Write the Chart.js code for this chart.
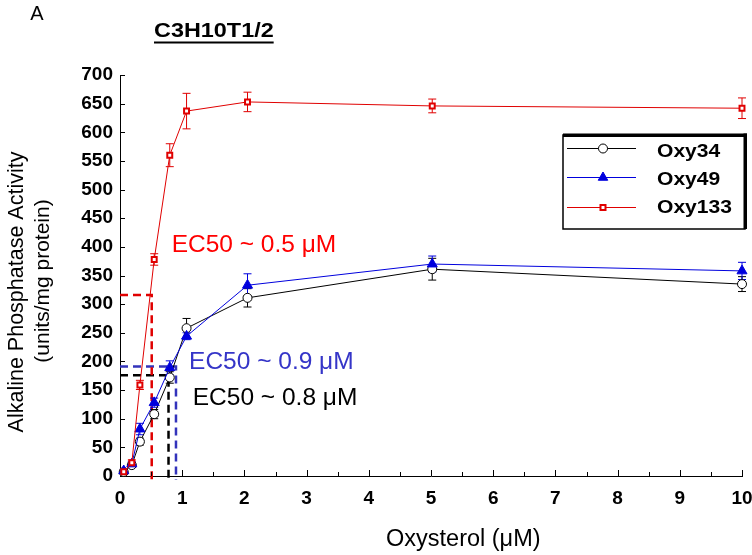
<!DOCTYPE html>
<html><head><meta charset="utf-8">
<script src="https://cdn.jsdelivr.net/npm/chart.js@4"></script>
<style>html,body{margin:0;padding:0;background:#fff;}#wrap{width:752px;height:555px;position:relative;}</style>
</head><body><div id="wrap"><canvas id="c" width="752" height="555"></canvas></div>
<script>
// ---- data ----
const concentrations = [0.06, 0.19, 0.32, 0.55, 0.80, 1.07, 2.05, 5.02, 10.0];
const seriesNames = ['Oxy34', 'Oxy49', 'Oxy133'];
const oxy34 = [7, 19, 60, 108, 172, 258, 311, 361, 335];
const oxy34Err = [3, 4, 6, 8, 10, 17, 16, 19, 13];
const oxy49 = [9, 21, 82, 128, 189, 244, 333, 370, 358];
const oxy49Err = [3, 4, 10, 8, 12, 6, 20, 14, 15];
const oxy133 = [7.5, 23, 159, 378, 560, 637, 653, 646, 642];
const oxy133Err = [3, 5, 8, 10, 20, 31, 17, 12, 18];
const ec50X = [0.78, 0.90, 0.51];
const ec50Y = [176, 191, 316];
const ec50Labels = ['EC50 ~ 0.8 \u03bcM', 'EC50 ~ 0.9 \u03bcM', 'EC50 ~ 0.5 \u03bcM'];
const panelLabel = 'A';
const chartTitle = 'C3H10T1/2';
const xTitle = 'Oxysterol (\u03bcM)';
const yTitle = ['Alkaline Phosphatase Activity', '(units/mg protein)'];

// ---- styles ----
const colors = ['#000000', '#0000dd', '#e00000'];
const ec50Colors = ['#000000', '#3333bb', '#e00000'];
const ec50TextColors = ['#000000', '#3535c8', '#ff0000'];
const ec50TextPos = [[1.17, 136], [1.11, 199], [0.83, 402]]; // data coords of label left/middle
const errLists = [oxy34Err, oxy49Err, oxy133Err];
const FONT = "'Liberation Sans', Arial, sans-serif";

function pts(vals) { return vals.map((v, i) => ({x: concentrations[i], y: v})); }

function drawMarker(ctx, type, x, y, color) {
  ctx.save();
  ctx.lineWidth = 1;
  ctx.strokeStyle = color; ctx.fillStyle = color;
  if (type === 'circle') {
    ctx.fillStyle = '#fff';
    ctx.beginPath(); ctx.arc(x, y, 4.5, 0, Math.PI * 2); ctx.fill(); ctx.stroke();
  } else if (type === 'triangle') {
    const r = 5.5;
    ctx.beginPath();
    ctx.moveTo(x, y - r);
    ctx.lineTo(x + r * 0.866, y + r * 0.5);
    ctx.lineTo(x - r * 0.866, y + r * 0.5);
    ctx.closePath(); ctx.fill(); ctx.stroke();
  } else {
    ctx.lineWidth = 2;
    ctx.fillStyle = '#fff';
    ctx.beginPath(); ctx.rect(x - 2.5, y - 2.5, 5, 5); ctx.fill(); ctx.stroke();
  }
  ctx.restore();
}

function stretchText(ctx, text, x, y, sx) {
  ctx.save(); ctx.translate(x, y); ctx.scale(sx, 1); ctx.fillText(text, 0, 0); ctx.restore();
}

const decor = {
  id: 'decor',
  beforeDatasetsDraw(chart) {
    const {ctx, scales: {x, y}} = chart;
    // EC50 dashed guides
    ctx.save();
    ctx.lineWidth = 2.5;
    ctx.setLineDash([8, 5]);
    ec50X.forEach((v, i) => {
      ctx.strokeStyle = ec50Colors[i];
      ctx.beginPath();
      ctx.moveTo(x.getPixelForValue(0), y.getPixelForValue(ec50Y[i]));
      ctx.lineTo(x.getPixelForValue(v), y.getPixelForValue(ec50Y[i]));
      ctx.lineTo(x.getPixelForValue(v), y.getPixelForValue(0) + 4);
      ctx.stroke();
    });
    ctx.restore();
    // error bars
    ctx.save();
    ctx.lineWidth = 1;
    chart.data.datasets.forEach((ds, i) => {
      ctx.strokeStyle = ds.borderColor;
      ds.data.forEach((p, j) => {
        const e = errLists[i][j];
        const px = x.getPixelForValue(p.x);
        const t = y.getPixelForValue(p.y + e), b = y.getPixelForValue(p.y - e);
        ctx.beginPath();
        ctx.moveTo(px, t); ctx.lineTo(px, b);
        ctx.moveTo(px - 4, t); ctx.lineTo(px + 4, t);
        ctx.moveTo(px - 4, b); ctx.lineTo(px + 4, b);
        ctx.stroke();
      });
    });
    ctx.restore();
  },
  afterDraw(chart) {
    const {ctx, scales: {x, y}} = chart;
    ctx.save();
    // inward ticks
    ctx.strokeStyle = '#000'; ctx.lineWidth = 1;
    const x0 = x.getPixelForValue(0), y0 = y.getPixelForValue(0);
    ctx.beginPath();
    for (let v = 50; v <= 700; v += 50) {
      const py = Math.round(y.getPixelForValue(v)) + 0.5;
      ctx.moveTo(x0, py); ctx.lineTo(x0 + 5, py);
    }
    for (let v = 0.5; v <= 10; v += 0.5) {
      const px = Math.round(x.getPixelForValue(v)) + 0.5;
      const len = (v % 1 === 0) ? 6 : 4;
      ctx.moveTo(px, y0); ctx.lineTo(px, y0 - len);
    }
    ctx.stroke();

    // EC50 labels
    ctx.font = '24.5px ' + FONT;
    ctx.textBaseline = 'middle'; ctx.textAlign = 'left';
    ec50Labels.forEach((t, i) => {
      ctx.fillStyle = ec50TextColors[i];
      ctx.fillText(t, x.getPixelForValue(ec50TextPos[i][0]), y.getPixelForValue(ec50TextPos[i][1]));
    });

    // panel label and title
    ctx.fillStyle = '#000';
    ctx.font = '20px ' + FONT;
    ctx.textAlign = 'center';
    ctx.fillText(panelLabel, 37, 14);
    ctx.font = 'bold 19.5px ' + FONT;
    ctx.textAlign = 'left';
    const tw = ctx.measureText(chartTitle).width * 1.2;
    stretchText(ctx, chartTitle, 154, 32, 1.2);
    ctx.fillRect(154, 41.5, tw, 2);

    // x axis title
    ctx.font = '23.5px ' + FONT;
    ctx.textAlign = 'left';
    ctx.fillText(xTitle, 386, 540);

    // y axis title (two lines, rotated)
    ctx.save();
    ctx.textAlign = 'center';
    ctx.translate(17, 292); ctx.rotate(-Math.PI / 2);
    ctx.font = '21.5px ' + FONT;
    ctx.fillText(yTitle[0], 0, 0);
    ctx.restore();
    ctx.save();
    ctx.textAlign = 'center';
    ctx.translate(43, 281); ctx.rotate(-Math.PI / 2);
    ctx.font = '21px ' + FONT;
    ctx.fillText(yTitle[1], 0, 0);
    ctx.restore();

    // legend
    const lx = 563, ly = 135, lw = 182, lh = 94;
    ctx.fillStyle = '#fff';
    ctx.fillRect(lx, ly, lw, lh);
    ctx.strokeStyle = '#000'; ctx.lineWidth = 1.5;
    ctx.strokeRect(lx, ly, lw, lh);
    ctx.fillStyle = '#000';
    ctx.fillRect(lx, ly - 1.5, lw + 2, 3.5);
    ctx.fillRect(lx + lw - 1.5, ly - 1.5, 3.5, lh + 1.5);
    const rowsLine = [148.5, 177.5, 207.5];
    const rowsText = [152, 180, 208];
    const markers = ['circle', 'triangle', 'rect'];
    chart.data.datasets.forEach((ds, i) => {
      ctx.strokeStyle = ds.borderColor; ctx.lineWidth = 1;
      ctx.beginPath(); ctx.moveTo(567, rowsLine[i]); ctx.lineTo(636, rowsLine[i]); ctx.stroke();
      drawMarker(ctx, markers[i], 603, rowsLine[i], ds.borderColor);
      ctx.fillStyle = '#000';
      ctx.font = 'bold 18px ' + FONT;
      ctx.textBaseline = 'middle'; ctx.textAlign = 'left';
      stretchText(ctx, ds.label, 657, rowsText[i], 1.17);
    });
    ctx.restore();
  }
};

const datasets = [
  {label: seriesNames[0], data: pts(oxy34), borderColor: colors[0], backgroundColor: '#ffffff',
   pointStyle: 'circle', pointRadius: 4.5, pointBorderWidth: 1, order: 3},
  {label: seriesNames[1], data: pts(oxy49), borderColor: colors[1], backgroundColor: colors[1],
   pointStyle: 'triangle', pointRadius: 5.8, pointBorderWidth: 1, order: 2},
  {label: seriesNames[2], data: pts(oxy133), borderColor: colors[2], backgroundColor: '#ffffff',
   pointStyle: 'rect', pointRadius: 3.5, pointBorderWidth: 2, order: 1}
].map(d => Object.assign({borderWidth: 1, tension: 0, showLine: true, clip: false,
  pointHoverRadius: d.pointRadius}, d));

new Chart(document.getElementById('c'), {
  type: 'scatter',
  data: {datasets},
  options: {
    responsive: false, animation: false, devicePixelRatio: 1,
    layout: {padding: {left: 0, right: 10, top: 75, bottom: 0}},
    plugins: {legend: {display: false}, tooltip: {enabled: false}},
    scales: {
      x: {
        type: 'linear', min: 0, max: 10,
        afterFit(s) { s.height = 79; s.paddingRight = 0; s.paddingLeft = 0; },
        grid: {display: false, drawTicks: false},
        border: {display: true, color: '#000', width: 1},
        ticks: {stepSize: 1, color: '#000', padding: 11,
          font: {family: FONT, size: 19, weight: 'bold'}},
        title: {display: false, text: xTitle}
      },
      y: {
        type: 'linear', min: 0, max: 700,
        afterFit(s) { s.width = 120; },
        grid: {display: false, drawTicks: false},
        border: {display: true, color: '#000', width: 1},
        ticks: {stepSize: 50, color: '#000', padding: 7,
          font: {family: FONT, size: 19, weight: 'bold'}},
        title: {display: false, text: yTitle}
      }
    }
  },
  plugins: [decor]
});
</script></body></html>
